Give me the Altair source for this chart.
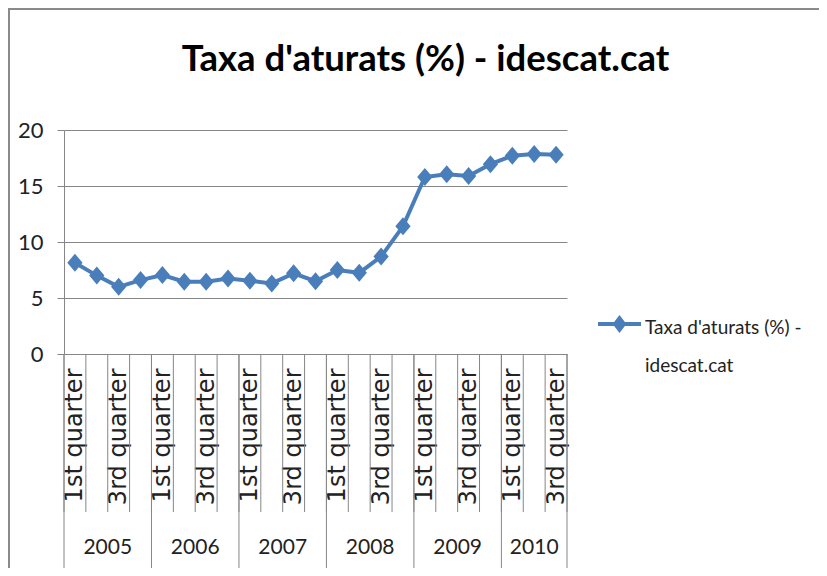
import json
import altair as alt
import pandas as pd

# ---- data ----
years = ["2005", "2006", "2007", "2008", "2009", "2010"]
quarters_per_year = [4, 4, 4, 4, 4, 3]
quarter_names = ["1st quarter", "2nd quarter", "3rd quarter", "4th quarter"]
shown_quarters = ["1st quarter", "3rd quarter"]
values = [8.15, 7.0, 6.0, 6.6, 7.05, 6.45, 6.45, 6.75, 6.55, 6.3, 7.2, 6.5,
          7.5, 7.25, 8.7, 11.4, 15.8, 16.05, 15.9, 16.95, 17.7, 17.85, 17.8]
series_name = "Taxa d'aturats (%) - idescat.cat"
y_ticks = [0, 5, 10, 15, 20]

# ---- tables built from the arrays ----
rows = []
idx = 0
year_rows = []
for y, n in zip(years, quarters_per_year):
    year_rows.append({"year": y, "start": idx, "center": idx + n / 2})
    for q in range(n):
        rows.append({"pos": idx + 0.5, "year": y, "quarter": quarter_names[q],
                     "value": values[idx], "series": series_name})
        idx += 1
n_cat = idx
df = pd.DataFrame(rows)
df_years = pd.DataFrame(year_rows)
df_bounds = pd.DataFrame({"b": list(range(n_cat + 1))})
df_year_bounds = pd.DataFrame({"b": [r["start"] for r in year_rows] + [n_cat]})
label_positions = [r["pos"] for r in rows if r["quarter"] in shown_quarters]

W, H = 503, 224
BLUE = "#4A7EBB"
GREY = "#868686"
FONT = "Lato"

xscale = alt.Scale(domain=[0, n_cat], nice=False, zero=False)

# legend symbol: line with a diamond, drawn slightly below the entry anchor
LEG_SYMBOL = ("M-1,0.166L-0.25,0.166L0,-0.164L0.25,0.166L1,0.166L1,0.346"
              "L0.25,0.346L0,0.676L-0.25,0.346L-1,0.346Z")

base = alt.Chart(df)

line = base.mark_line(color=BLUE, strokeWidth=4).encode(
    x=alt.X("pos:Q", scale=xscale, title=None,
            axis=alt.Axis(values=label_positions,
                          labelExpr=json.dumps(quarter_names) + "[floor(datum.value) % 4]",
                          labelAngle=270, ticks=False, grid=False,
                          labelFont="DejaVu Sans", labelFontSize=24,
                          labelColor="#222", labelPadding=14,
                          domainColor=GREY, labelOverlap=False)),
    y=alt.Y("value:Q", scale=alt.Scale(domain=[0, 20], nice=False), title=None,
            axis=alt.Axis(values=y_ticks, tickSize=7, tickColor=GREY,
                          domainColor=GREY, gridColor=GREY, labelPadding=14,
                          labelFont=FONT, labelFontSize=22, labelColor="#222")),
    color=alt.Color("series:N", scale=alt.Scale(range=[BLUE]),
                    legend=alt.Legend(
                        title=None, orient="none", legendX=534, legendY=167,
                        symbolType=LEG_SYMBOL,
                        symbolSize=1849, symbolStrokeWidth=0, symbolFillColor=BLUE,
                        symbolOpacity=1, labelFont=FONT, labelFontSize=19,
                        labelColor="#222", labelOffset=4, labelLimit=300,
                        labelBaseline="top", padding=0,
                        labelExpr="[slice(datum.label, 0, 20), slice(datum.label, 21)]")),
)

points = base.mark_point(
    shape="M-0.85,0L0,-1L0.85,0L0,1Z", filled=True, size=324, opacity=1
).encode(
    x=alt.X("pos:Q", scale=xscale),
    y="value:Q",
    color=alt.Color("series:N", scale=alt.Scale(range=[BLUE])),
)

ticks = alt.Chart(df_bounds).mark_rule(color=GREY, strokeWidth=1).encode(
    x=alt.X("b:Q", scale=xscale), y=alt.value(H), y2=alt.value(H + 158))

year_lines = alt.Chart(df_year_bounds).mark_rule(color=GREY, strokeWidth=1).encode(
    x=alt.X("b:Q", scale=xscale), y=alt.value(H), y2=alt.value(H + 214))

year_text = alt.Chart(df_years).mark_text(
    font=FONT, fontSize=21, color="#222", baseline="middle").encode(
    x=alt.X("center:Q", scale=xscale), y=alt.value(H + 194), text="year:N")

frame_df = pd.DataFrame({"f": [0]})
frame_left = alt.Chart(frame_df).mark_rule(color="#8a8a8a", strokeWidth=2).encode(
    x=alt.value(-55), y=alt.value(-121), y2=alt.value(H + 214))
frame_top = alt.Chart(frame_df).mark_rule(color="#8a8a8a", strokeWidth=2).encode(
    x=alt.value(-56), x2=alt.value(W + 252), y=alt.value(-121))

chart = alt.layer(frame_left, frame_top, ticks, year_lines, year_text, line, points).properties(
    width=W, height=H,
    title=alt.TitleParams(series_name, font=FONT, fontSize=36.5, fontWeight="bold",
                          color="black", anchor="middle", dx=110, offset=-99,
                          baseline="alphabetic"),
    autosize=alt.AutoSizeParams(type="none"),
    padding={"left": 56, "top": 122, "right": 252, "bottom": 214},
).configure(
    background="white",
    view=alt.ViewConfig(stroke="transparent"),
    style={"guide-label": {"lineHeight": 38}},
)

chart.save("out.html", embed_options={"renderer": "svg", "actions": False})
